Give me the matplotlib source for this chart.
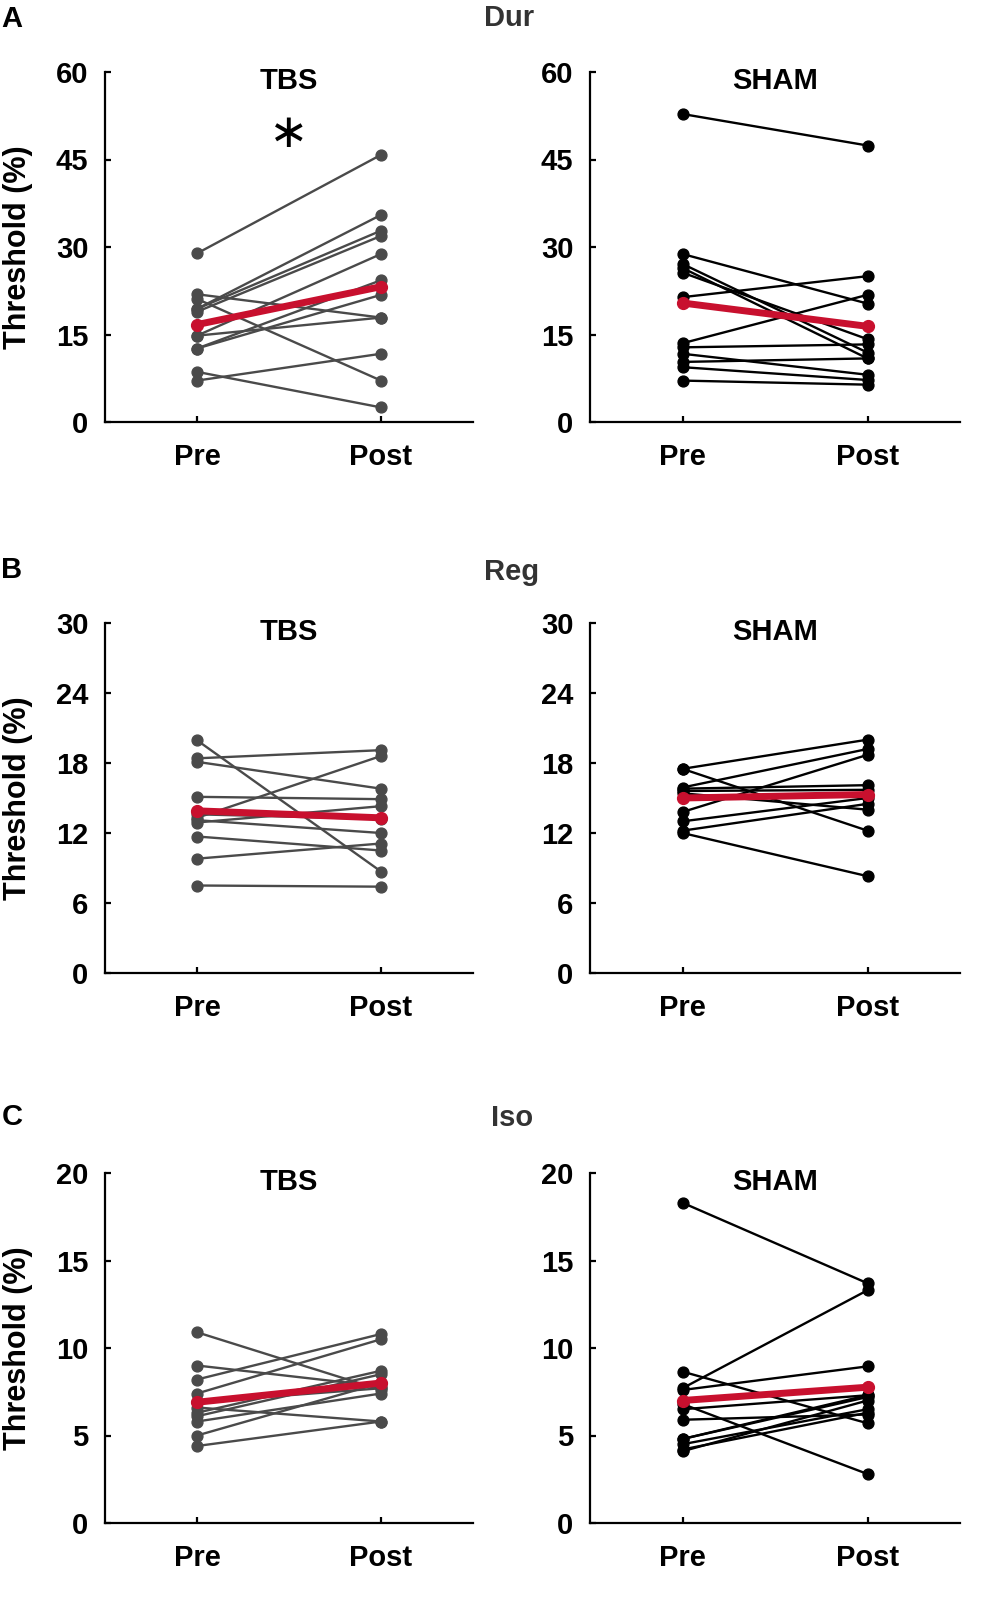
import matplotlib
matplotlib.use("Agg")
import matplotlib.pyplot as plt
import numpy as np

plt.rcParams['font.family'] = ['Liberation Sans', 'DejaVu Sans']
plt.rcParams['font.weight'] = 'bold'

# ---------------- data ----------------
conditions = ["Pre", "Post"]
groups = ["TBS", "SHAM"]
measures = ["Dur", "Reg", "Iso"]
panel_letters = ["A", "B", "C"]

dur_tbs_pre  = [28.9, 21.9, 21.1, 19.4, 19.4, 18.9, 14.8, 14.8, 12.6, 12.6, 8.6, 7.1]
dur_tbs_post = [45.8, 17.9, 7.1, 35.5, 32.8, 31.9, 28.8, 17.9, 24.3, 21.8, 2.5, 11.7]
dur_tbs_mean = [16.7, 23.2]
dur_sham_pre  = [52.8, 28.8, 27.1, 26.4, 25.6, 21.4, 13.5, 12.8, 11.7, 10.3, 9.4, 7.1]
dur_sham_post = [47.4, 20.3, 11.9, 10.9, 14.2, 25.0, 21.8, 13.3, 8.1, 10.9, 7.2, 6.4]
dur_sham_mean = [20.4, 16.4]

reg_tbs_pre  = [19.95, 18.4, 18.1, 15.1, 13.3, 12.9, 13.1, 11.7, 9.8, 7.5, 13.6]
reg_tbs_post = [8.7, 19.1, 15.8, 14.9, 18.6, 14.3, 12.0, 10.5, 11.1, 7.4, 13.2]
reg_tbs_mean = [13.9, 13.3]
reg_sham_pre  = [17.5, 17.5, 15.9, 15.8, 15.6, 15.4, 13.8, 13.0, 12.2, 12.0]
reg_sham_post = [20.0, 12.2, 19.2, 16.1, 15.7, 14.0, 18.7, 15.0, 14.5, 8.3]
reg_sham_mean = [15.0, 15.3]

iso_tbs_pre  = [10.9, 9.0, 8.2, 7.4, 6.6, 6.3, 6.1, 5.8, 5.0, 4.4, 6.9]
iso_tbs_post = [7.6, 7.8, 10.8, 10.5, 5.8, 8.7, 8.5, 7.4, 8.0, 5.8, 7.7]
iso_tbs_mean = [6.9, 8.0]
iso_sham_pre  = [18.3, 7.7, 7.6, 8.65, 6.8, 6.5, 5.9, 4.8, 4.5, 4.2, 4.1, 4.8]
iso_sham_post = [13.7, 13.3, 8.95, 5.7, 2.8, 7.3, 6.2, 7.3, 6.5, 6.3, 7.0, 7.2]
iso_sham_mean = [7.0, 7.76]

dur_ticks = [0, 15, 30, 45, 60]
reg_ticks = [0, 6, 12, 18, 24, 30]
iso_ticks = [0, 5, 10, 15, 20]

rows = [
    (dur_ticks, (dur_tbs_pre, dur_tbs_post, dur_tbs_mean), (dur_sham_pre, dur_sham_post, dur_sham_mean)),
    (reg_ticks, (reg_tbs_pre, reg_tbs_post, reg_tbs_mean), (reg_sham_pre, reg_sham_post, reg_sham_mean)),
    (iso_ticks, (iso_tbs_pre, iso_tbs_post, iso_tbs_mean), (iso_sham_pre, iso_sham_post, iso_sham_mean)),
]

# ---------------- layout ----------------
W, H = 981, 1602
fig = plt.figure(figsize=(W / 100, H / 100), dpi=100)

col_left = [105, 590]
col_width = [368, 370]
row_top = [72, 623, 1173]
row_height = 350

line_colors = ["#4a4a4a", "#000000"]
red = "#c8102e"
fs = 21

for r, (ticks, tbs, sham) in enumerate(rows):
    for c, (pre, post, mean) in enumerate([tbs, sham]):
        l = col_left[c] / W
        b = 1 - (row_top[r] + row_height) / H
        ax = fig.add_axes([l, b, col_width[c] / W, row_height / H])
        for p0, p1 in zip(pre, post):
            ax.plot([1, 2], [p0, p1], color=line_colors[c], lw=1.7,
                    marker='o', ms=7.8, mec=line_colors[c], mfc=line_colors[c], zorder=2)
        ax.plot([1, 2], mean, color=red, lw=5, marker='o', ms=8.5,
                mec=red, mfc=red, zorder=3, solid_capstyle='round')
        ax.set_xlim(0.5, 2.5)
        ax.set_ylim(ticks[0], ticks[-1])
        ax.set_yticks(ticks)
        ax.set_xticks([1, 2])
        ax.set_xticklabels(conditions)
        for s in ["top", "right"]:
            ax.spines[s].set_visible(False)
        for s in ["left", "bottom"]:
            ax.spines[s].set_linewidth(1.6)
        ax.tick_params(direction='in', length=4, width=1.6, labelsize=fs)
        ax.tick_params(axis='x', pad=15)
        ax.tick_params(axis='y', pad=12)
        for t in ax.get_xticklabels() + ax.get_yticklabels():
            t.set_fontweight('bold')
        ax.text(0.5, 0.975, groups[c], transform=ax.transAxes, ha='center', va='center',
                fontsize=fs, fontweight='bold')
        if r == 0 and c == 0:
            ax.text(1.5, 49.3, "\u2217", ha='center', va='center', fontsize=34,
                    fontweight='normal', family='DejaVu Sans')
    # row labels
    yc = row_top[r] + row_height / 2
    fig.text(18 / W, 1 - yc / H, "Threshold (%)", rotation=90, ha='center', va='center',
             fontsize=22, fontweight='bold')

letter_y = [19, 570, 1117]
measure_pos = [(509, 18), (512, 572), (512, 1118)]
for r in range(3):
    fig.text(12 / W, 1 - letter_y[r] / H, panel_letters[r], ha='center', va='center',
             fontsize=fs, fontweight='bold')
    mx, my = measure_pos[r]
    fig.text(mx / W, 1 - my / H, measures[r], ha='center', va='center',
             fontsize=fs, fontweight='bold', color='#333333')

fig.savefig("out.png", dpi=100)
